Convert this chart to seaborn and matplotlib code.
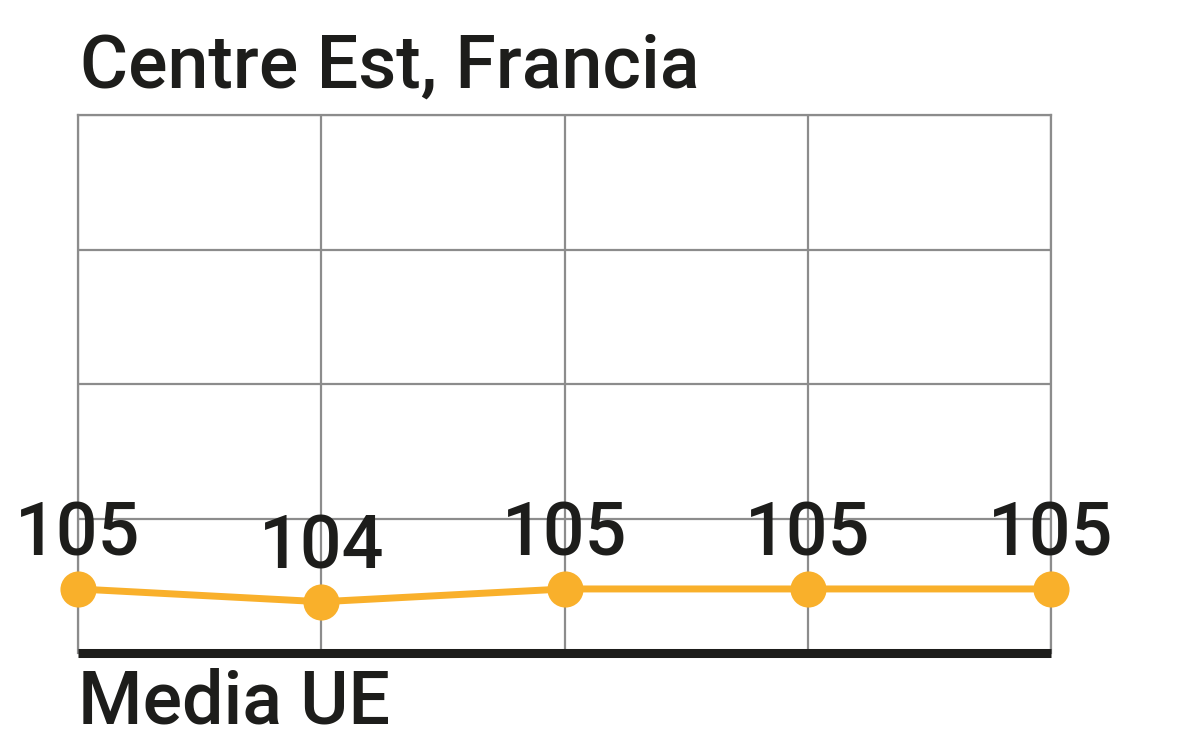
import matplotlib
matplotlib.use("Agg")
import matplotlib.pyplot as plt
import numpy as np
import pandas as pd
import seaborn as sns

# data
periodos = [0, 1, 2, 3, 4]
valores = [105, 104, 105, 105, 105]
etiquetas = ["105", "104", "105", "105", "105"]
titulo = "Centre Est, Francia"
base_label = "Media UE"

TEXT = "#1d1d1b"
GRID = "#8c8c8c"
ORANGE = "#f9b02b"

sns.set_theme(style="white")
plt.rcParams["font.family"] = ["Roboto", "DejaVu Sans"]

df = pd.DataFrame({"periodo": periodos, "valor": valores})

fig = plt.figure(figsize=(11.88, 7.35), dpi=100)
ax = fig.add_axes([78 / 1188, 1 - 653 / 735, (1051 - 78) / 1188, (653 - 115) / 735])

sns.lineplot(
    data=df,
    x="periodo",
    y="valor",
    ax=ax,
    color=ORANGE,
    linewidth=5,
    marker="o",
    markersize=26,
    markeredgewidth=0,
    clip_on=False,
    zorder=5,
)

ax.set_xlim(0, 4)
ax.set_ylim(100, 142)
ax.set_xticks(periodos)
ax.set_yticks(np.linspace(100, 142, 5))
ax.grid(True, color=GRID, linewidth=1.6)
ax.tick_params(length=0, labelbottom=False, labelleft=False)
ax.set_xlabel("")
ax.set_ylabel("")

for side in ("top", "left", "right"):
    ax.spines[side].set_color(GRID)
    ax.spines[side].set_linewidth(1.6)
ax.spines["bottom"].set_color(TEXT)
ax.spines["bottom"].set_linewidth(6.5)
ax.spines["bottom"].set_capstyle("butt")
ax.spines["bottom"].set_zorder(6)

font_kw = dict(fontsize=53, fontweight="medium", color=TEXT)

for x, y, lab in zip(periodos, valores, etiquetas):
    ax.annotate(
        lab,
        (x, y),
        xytext=(0, 24),
        textcoords="offset points",
        ha="center",
        va="baseline",
        zorder=7,
        annotation_clip=False,
        **font_kw,
    )

fig.text(80 / 1188, 1 - 88 / 735, titulo, ha="left", va="baseline", **font_kw)
fig.text(78 / 1188, 1 - 724 / 735, base_label, ha="left", va="baseline", **font_kw)

fig.savefig("out.png", dpi=100)
plt.close()
